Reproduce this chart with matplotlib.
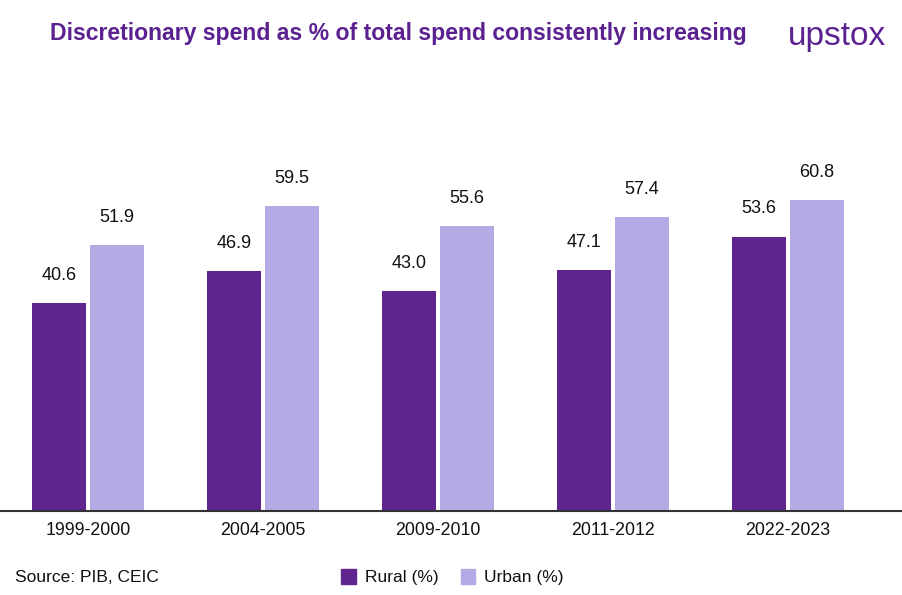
import numpy as np
import matplotlib
matplotlib.use("Agg")
import matplotlib.pyplot as plt
from matplotlib.patches import Rectangle

plt.rcParams['font.family'] = ['Liberation Sans', 'DejaVu Sans']

# Data
periods = ["1999-2000", "2004-2005", "2009-2010", "2011-2012", "2022-2023"]
rural = [40.6, 46.9, 43.0, 47.1, 53.6]
urban = [51.9, 59.5, 55.6, 57.4, 60.8]

rural_color = "#5f248e"
urban_color = "#b3a9e4"
title_color = "#5b2191"

fig = plt.figure(figsize=(9.03, 5.95), dpi=100)
ax = fig.add_axes([0.0, 0.1412, 1.0, 0.7311])

x = np.arange(len(periods))
w = 0.31
off = 0.165
b1 = ax.bar(x - off, rural, width=w, color=rural_color, label="Rural (%)")
b2 = ax.bar(x + off, urban, width=w, color=urban_color, label="Urban (%)")

for bars, vals in [(b1, rural), (b2, urban)]:
    for bar, v in zip(bars, vals):
        ax.annotate(f"{v:.1f}", (bar.get_x() + bar.get_width() / 2, v),
                    xytext=(0, 20), textcoords="offset points",
                    ha="center", va="center", fontsize=13, color="#111111")

ax.set_xlim(-0.503, 4.657)
ax.set_ylim(0, 85)
ax.set_xticks(x)
ax.set_xticklabels(periods, fontsize=12.8, color="#111111")
ax.tick_params(axis="x", length=0, pad=8)
ax.set_yticks([])
for s in ["top", "right", "left"]:
    ax.spines[s].set_visible(False)
ax.spines["bottom"].set_color("#333333")
ax.spines["bottom"].set_linewidth(1.5)

fig.text(0.055, 0.944, "Discretionary spend as % of total spend consistently increasing",
         fontsize=16.6, fontweight="bold", color=title_color, va="center", ha="left")
fig.text(0.873, 0.938, "upstox", fontsize=24, color=title_color, va="center", ha="left")

fig.text(0.017, 0.030, "Source: PIB, CEIC", fontsize=12.5, color="#111111", va="center")

# legend
leg_items = [("Rural (%)", rural_color, 0.378), ("Urban (%)", urban_color, 0.510)]
for lab, col, xp in leg_items:
    fig.patches.append(Rectangle((xp, 0.018), 0.016, 0.026, transform=fig.transFigure,
                                 color=col, figure=fig))
    fig.text(xp + 0.026, 0.030, lab, fontsize=12.5, color="#111111", va="center")

fig.savefig("out.png", dpi=100)
